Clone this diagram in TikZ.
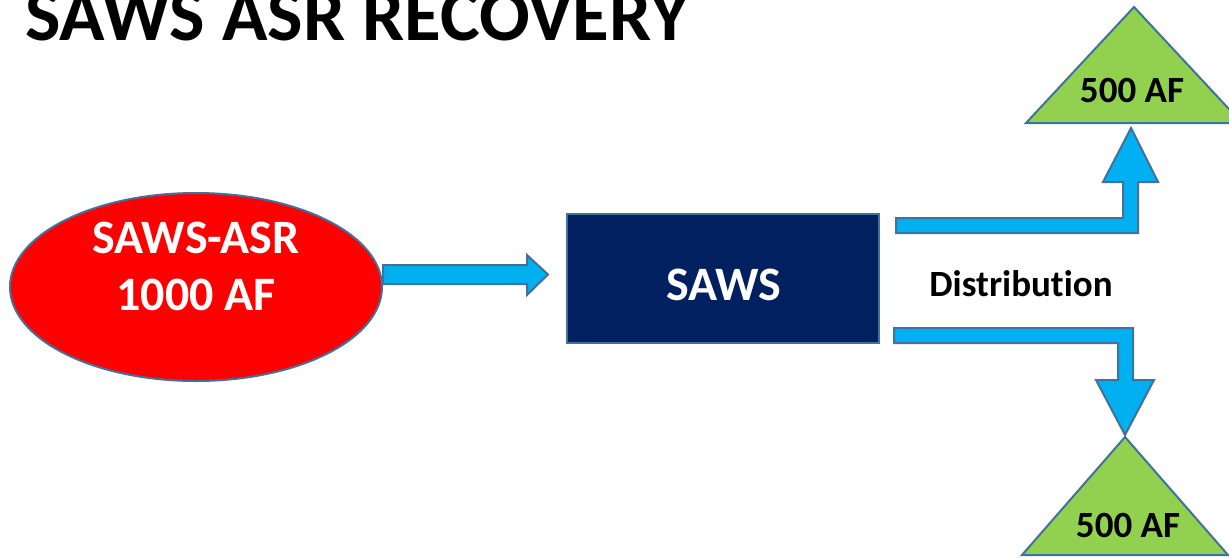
\documentclass[tikz,border=0pt]{standalone}
\usepackage{fontspec}
\setmainfont{Carlito}[Ligatures=NoCommon]
\usetikzlibrary{shapes.geometric}

\definecolor{edgeblue}{HTML}{41719C}
\definecolor{sawsnavy}{HTML}{002060}
\definecolor{flowblue}{HTML}{00B0F0}
\definecolor{poolgreen}{HTML}{92D050}

\tikzset{
  outline/.style={draw=edgeblue, line width=2pt, line join=miter},
  flow/.style={outline, fill=flowblue},
  pool/.style={outline, fill=poolgreen},
  bigtext/.style={font=\fontsize{48}{57}\selectfont\bfseries, text=white},
  smalltext/.style={font=\fontsize{37}{44}\selectfont\bfseries, text=black}
}

\begin{document}
\begin{tikzpicture}[x=1pt,y=-1pt]
   \useasboundingbox (0,0) rectangle (1229,557);

   \path (25,40) node[anchor=base west, inner sep=0pt,
     font=\fontsize{75}{80}\selectfont\bfseries] (title) {SAWS ASR RECOVERY};

   % source and plant
   \path (196,287) node[outline, fill=red, shape=ellipse, inner sep=0pt,
     minimum width=372pt, minimum height=188pt] (asr) {};
   \path (196,253) node[bigtext, anchor=base, inner sep=0pt] (asrname) {SAWS-ASR};
   \path (196,310) node[bigtext, anchor=base, inner sep=0pt] (asrvol) {1000 AF};

   \path (723,278.5) node[outline, fill=sawsnavy, shape=rectangle, inner sep=0pt,
     minimum width=312pt, minimum height=129pt] (saws) {};
   \path (724,300) node[bigtext, anchor=base, inner sep=0pt] (sawsname) {SAWS};

   \path (1021,296) node[smalltext, anchor=base, inner sep=0pt] (dist) {Distribution};

   % storage
   \coordinate (topl) at (1026,123);
   \coordinate (topa) at (1134,7);
   \coordinate (topr) at (1242,123);
   \coordinate (botl) at (1022,555);
   \coordinate (bota) at (1125,437);
   \coordinate (botr) at (1228,555);
   \draw[pool] (topl) -- (topa) -- (topr) -- cycle;
   \draw[pool] (botl) -- (bota) -- (botr) -- cycle;
   \path (1132,102) node[smalltext, anchor=base, inner sep=0pt] (top500) {500 AF};
   \path (1128,537) node[smalltext, anchor=base, inner sep=0pt] (bot500) {500 AF};

   % block arrows
   \draw[flow] (383,265) -- (527,265) -- (527,255) -- (548,274.5)
     -- (527,295) -- (527,284) -- (383,284) -- cycle;
   \draw[flow] (896,218) -- (1123,218) -- (1123,182) -- (1103,182)
     -- (1131,128) -- (1158,182) -- (1138,182) -- (1138,233) -- (896,233) -- cycle;
   \draw[flow] (894,328) -- (1133,328) -- (1133,380) -- (1154,380)
     -- (1125,435) -- (1096,380) -- (1118,380) -- (1118,343) -- (894,343) -- cycle;
\end{tikzpicture}
\end{document}
